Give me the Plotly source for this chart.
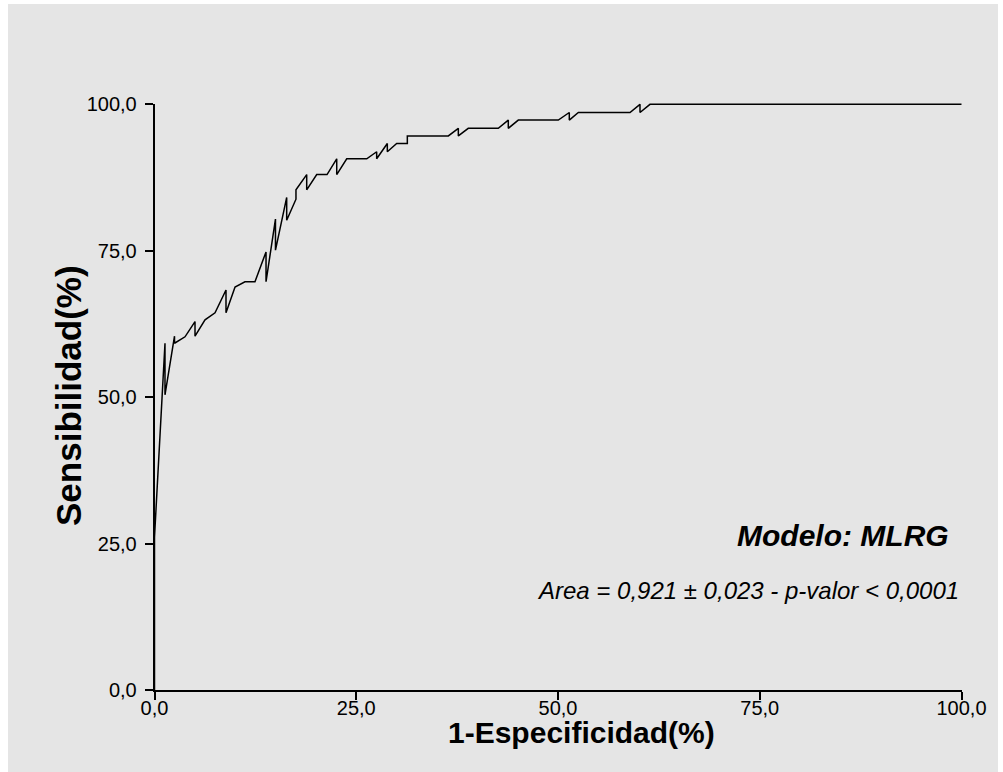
import plotly.graph_objects as go

# ROC curve points (percent)
fpr = [0, 0, 1.30, 1.30, 2.48, 2.48, 3.78, 5.02, 5.02, 6.26, 7.50, 8.86, 8.86, 9.98, 11.21,
       12.45, 13.82, 13.82, 14.99, 14.99, 16.38, 16.38, 17.53, 17.53, 18.86, 18.86, 20.10,
       21.38, 22.58, 22.58, 23.82, 26.30, 27.53, 27.53, 28.85, 28.85, 30.01, 31.33, 31.33,
       36.41, 37.65, 37.65, 38.88, 42.60, 43.84, 43.84, 45.08, 50.04, 51.40, 51.40, 52.52,
       58.92, 60.16, 60.16, 61.40, 100.0]
tpr = [0, 26.1, 59.2, 50.4, 60.4, 59.2, 60.3, 62.9, 60.4, 63.2, 64.4, 68.3, 64.4, 68.8, 69.7,
       69.7, 74.8, 69.7, 80.4, 75.1, 84.1, 80.2, 83.8, 85.4, 88.0, 85.4, 88.0,
       88.0, 90.7, 88.0, 90.7, 90.7, 91.9, 90.7, 93.3, 91.9, 93.3, 93.3, 94.6,
       94.6, 95.9, 94.6, 95.9, 95.9, 97.3, 95.9, 97.3, 97.3, 98.6, 97.3, 98.6,
       98.6, 100, 98.6, 100, 100]

tick_vals = [0, 25, 50, 75, 100]
tick_text = ["0,0", "25,0", "50,0", "75,0", "100,0"]

x_title = "1-Especificidad(%)"
y_title = "Sensibilidad(%)"
model_text = "Modelo: MLRG"
area_text = "Area = 0,921 ± 0,023 - p-valor < 0,0001"

W, H = 1003, 772
# pixel geometry of the axes box
X0, X1 = 154.5, 961.5
Y0, Y1 = 690.0, 104.3
pad = 1.0  # data units of padding for the curve subplot
sx = (X1 - X0) / 100.0
sy = (Y0 - Y1) / 100.0

def fx(px):
    return px / W

def fy(py):
    return 1 - py / H

FONT = "Liberation Sans, Arial, sans-serif"

fig = go.Figure()
# invisible trace so the frame subplot (axes with ticks) is drawn
fig.add_trace(go.Scatter(
    x=tick_vals, y=tick_vals, mode="markers", marker=dict(opacity=0),
    xaxis="x", yaxis="y", showlegend=False, hoverinfo="skip"))
fig.add_trace(go.Scatter(
    x=fpr, y=tpr, mode="lines",
    line=dict(color="black", width=1.5),
    xaxis="x2", yaxis="y2", showlegend=False, hoverinfo="skip"))

axis_common = dict(
    showgrid=False, zeroline=False, showline=True, linecolor="black", linewidth=1.5,
    ticks="outside", ticklen=8, tickwidth=1.5, tickcolor="black",
    tickvals=tick_vals, ticktext=tick_text,
    tickfont=dict(family=FONT, size=20, color="black"),
    range=[0, 100], fixedrange=True)

hidden = dict(showgrid=False, zeroline=False, showline=False, ticks="",
              showticklabels=False, fixedrange=True)

fig.update_layout(
    width=W, height=H,
    margin=dict(l=0, r=0, t=0, b=0, autoexpand=False),
    paper_bgcolor="white", plot_bgcolor="rgba(0,0,0,0)",
    xaxis=dict(domain=[fx(X0), fx(X1)], anchor="y", ticklabelstandoff=-9, **axis_common),
    yaxis=dict(domain=[fy(Y0), fy(Y1)], anchor="x", ticklabelstandoff=4, **axis_common),
    xaxis2=dict(domain=[fx(X0 - pad * sx), fx(X1 + pad * sx)], range=[-pad, 100 + pad],
                anchor="y2", **hidden),
    yaxis2=dict(domain=[fy(Y0 + pad * sy), fy(Y1 - pad * sy)], range=[-pad, 100 + pad],
                anchor="x2", **hidden),
    shapes=[dict(type="rect", xref="paper", yref="paper", x0=fx(8), x1=fx(998), y0=-0.01, y1=fy(4),
                 fillcolor="#e5e5e5", line=dict(width=0), layer="below")],
    annotations=[
        dict(text=f"<b>{x_title}</b>", xref="paper", yref="paper", x=fx(581), y=fy(732),
             showarrow=False, xanchor="center", yanchor="middle",
             font=dict(family=FONT, size=30, color="black")),
        dict(text=f"<b>{y_title}</b>", xref="paper", yref="paper", x=fx(68), y=fy(396),
             showarrow=False, xanchor="center", yanchor="middle", textangle=-90,
             font=dict(family=FONT, size=35, color="black")),
        dict(text=f"<b><i>{model_text}</i></b>", xref="paper", yref="paper", x=fx(951), y=fy(535),
             showarrow=False, xanchor="right", yanchor="middle",
             font=dict(family=FONT, size=30, color="black")),
        dict(text=f"<i>{area_text}</i>", xref="paper", yref="paper", x=fx(961), y=fy(590),
             showarrow=False, xanchor="right", yanchor="middle",
             font=dict(family=FONT, size=24, color="black")),
    ],
)

fig.write_html("out.html", config={"displayModeBar": False},
               post_script="document.body.style.margin='0';")
